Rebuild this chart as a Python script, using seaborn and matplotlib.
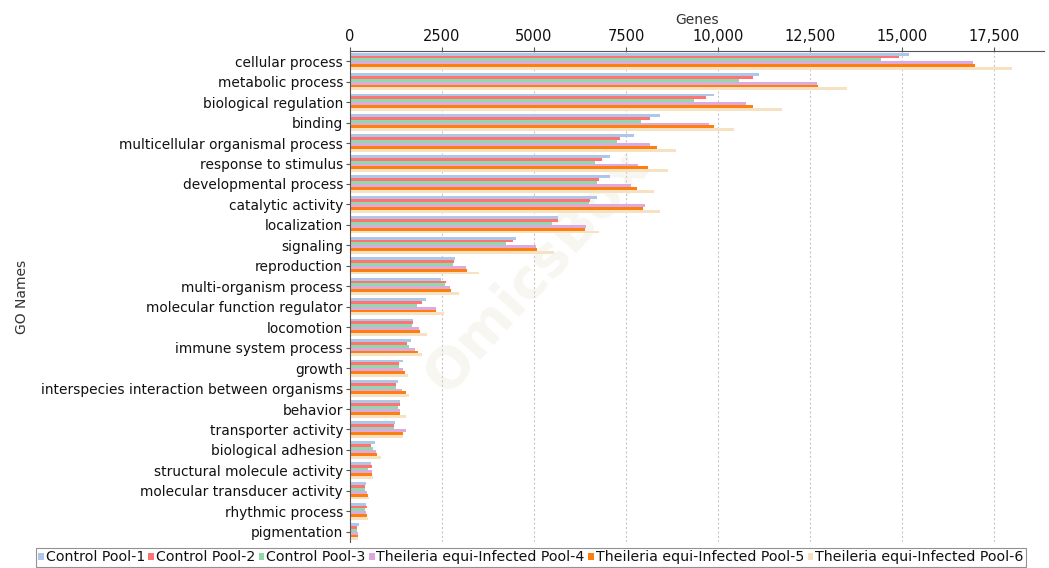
import matplotlib
matplotlib.use('Agg')
import numpy as np
import pandas as pd
import seaborn as sns
import matplotlib.pyplot as plt

terms = ['cellular process', 'metabolic process', 'biological regulation', 'binding',
         'multicellular organismal process', 'response to stimulus', 'developmental process',
         'catalytic activity', 'localization', 'signaling', 'reproduction',
         'multi-organism process', 'molecular function regulator', 'locomotion',
         'immune system process', 'growth', 'interspecies interaction between organisms',
         'behavior', 'transporter activity', 'biological adhesion',
         'structural molecule activity', 'molecular transducer activity',
         'rhythmic process', 'pigmentation']

pools = ['Control Pool-1', 'Control Pool-2', 'Control Pool-3',
         'Theileria equi-Infected Pool-4', 'Theileria equi-Infected Pool-5',
         'Theileria equi-Infected Pool-6']

pool1 = [15190, 11110, 9880, 8430, 7715, 7060, 7060, 6720, 5660, 4515, 2860, 2470,
         2055, 1710, 1645, 1430, 1310, 1370, 1220, 675, 575, 445, 435, 235]
pool2 = [14930, 10950, 9675, 8140, 7325, 6840, 6770, 6510, 5660, 4440, 2835, 2600,
         1945, 1710, 1545, 1325, 1255, 1355, 1200, 580, 610, 420, 475, 190]
pool3 = [14420, 10560, 9350, 7900, 7265, 6660, 6705, 6490, 5490, 4250, 2800, 2590,
         1820, 1680, 1590, 1335, 1245, 1310, 1190, 620, 490, 400, 410, 190]
pool4 = [16940, 12690, 10770, 9750, 8140, 7840, 7640, 8010, 6410, 5050, 3150, 2720,
         2335, 1870, 1755, 1430, 1410, 1355, 1510, 720, 600, 475, 430, 220]
pool5 = [16980, 12730, 10950, 9880, 8350, 8105, 7810, 7970, 6390, 5075, 3180, 2745,
         2345, 1890, 1845, 1500, 1520, 1370, 1440, 730, 590, 500, 465, 220]
pool6 = [17990, 13500, 11745, 10430, 8870, 8630, 8275, 8430, 6780, 5550, 3500, 2970,
         2545, 2080, 1970, 1570, 1600, 1535, 1440, 835, 635, 510, 490, 225]

tick_values = [0, 2500, 5000, 7500, 10000, 12500, 15000, 17500]
tick_labels = ['0', '2500', '5000', '7500', '10,000', '12,500', '15,000', '17,500']

colors = ['#aec7e8', '#ff7373', '#8fd9ab', '#dcaade', '#ff7f0e', '#f6e1c2']

series = [pool1, pool2, pool3, pool4, pool5, pool6]
rows = []
for p, vals in zip(pools, series):
    for t, v in zip(terms, vals):
        rows.append({'term': t, 'pool': p, 'genes': v})
df = pd.DataFrame(rows)

sns.set_style('white')
plt.rcParams['font.family'] = ['DejaVu Sans']

fig = plt.figure(figsize=(10.49, 5.68), dpi=100)
ax = fig.add_axes([350 / 1049, 1 - 542 / 568, 694 / 1049, 491 / 568])

# faint watermark behind the bars
ax.text(0.27, 0.55, 'OmicsBox', transform=ax.transAxes, rotation=48, fontsize=40,
        color='#f7f6f0', ha='center', va='center', fontweight='bold', zorder=0)

sns.barplot(data=df, y='term', x='genes', hue='pool', palette=colors, orient='h',
            width=0.84, ax=ax, legend=True, zorder=2, linewidth=0, edgecolor='none',
            saturation=1)

ax.set_xlim(0, 18860)
ax.set_ylim(len(terms) - 0.5, -0.5)
ax.xaxis.tick_top()
ax.xaxis.set_label_position('top')
ax.set_xticks(tick_values)
ax.set_xticklabels(tick_labels, fontsize=10.5, color='#111111')
ax.tick_params(axis='x', length=3, pad=2, color='#555555')
ax.tick_params(axis='y', length=3, pad=2, labelsize=9.9, labelcolor='#111111',
               color='#555555', left=True)
ax.set_xlabel('Genes', fontsize=10, color='#333333', labelpad=4)
ax.set_ylabel('GO Names', fontsize=10, color='#333333', labelpad=0)
ax.yaxis.set_label_coords(-0.462, 0.5)

for v in tick_values[1:]:
    ax.axvline(v, color='#c8c8c8', linestyle=(0, (2, 2)), linewidth=0.8, zorder=1)

for s in ['right', 'bottom']:
    ax.spines[s].set_visible(False)
ax.spines['top'].set_color('#555555')
ax.spines['left'].set_color('#555555')

h, l = ax.get_legend_handles_labels()
ax.legend_.remove()
leg = fig.legend(h, l, loc='lower center', bbox_to_anchor=(0.506, 0.0), ncol=6,
                 frameon=True, fancybox=False, fontsize=10.2, handlelength=0.4,
                 handleheight=0.4, handletextpad=0.12, columnspacing=0.25,
                 borderpad=0.2, borderaxespad=0.05, edgecolor='#777777',
                 labelcolor='#111111')
leg.get_frame().set_linewidth(0.8)

fig.savefig('out.png', dpi=100)
